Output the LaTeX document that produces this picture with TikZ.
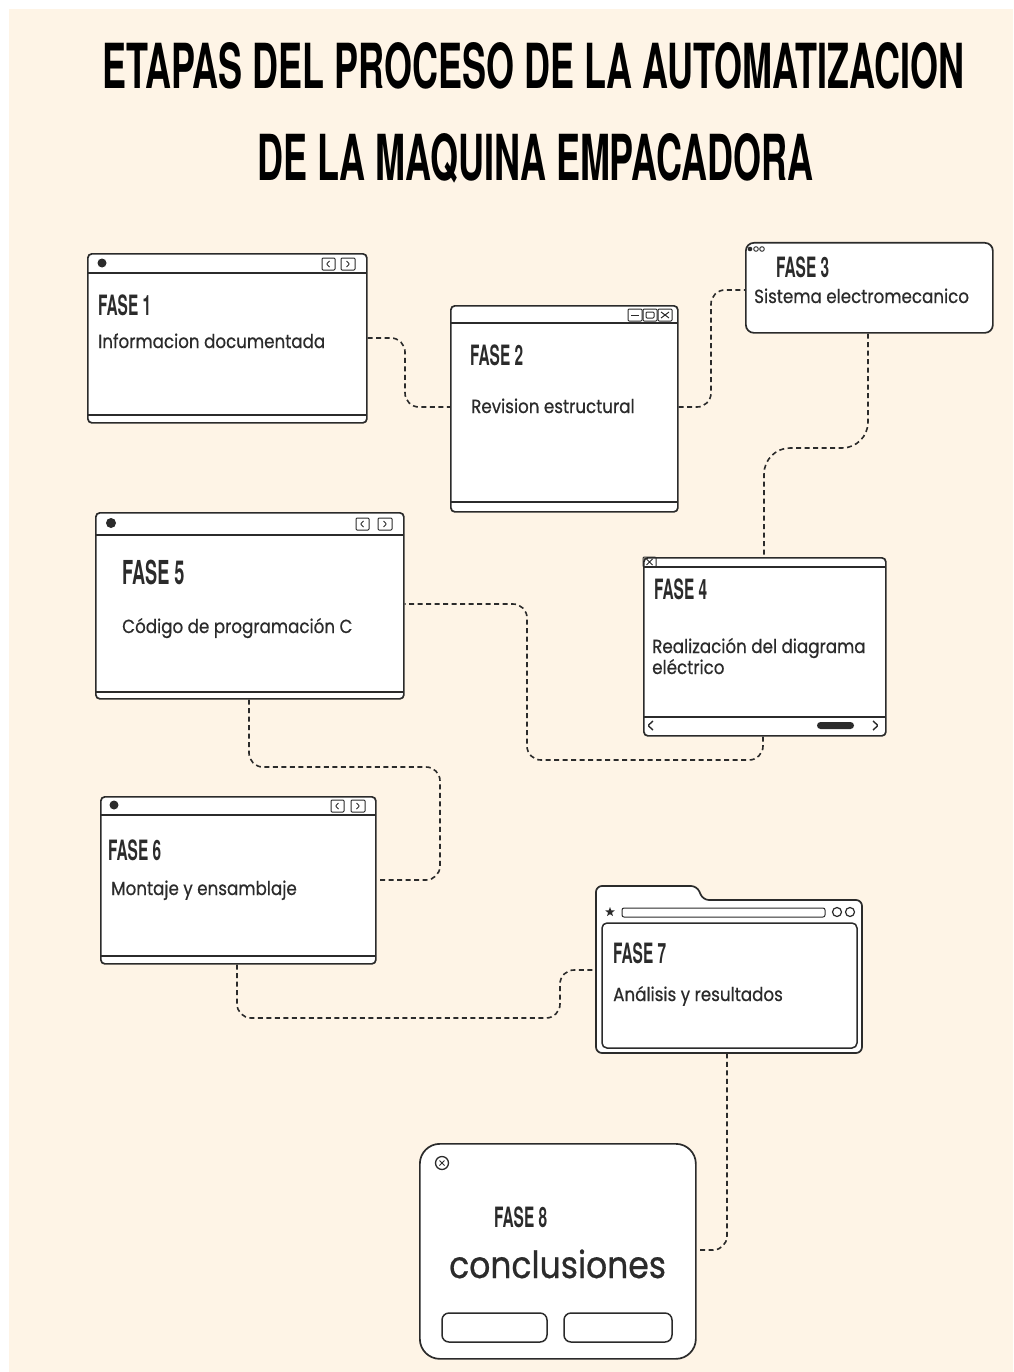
\documentclass[tikz,border=0pt]{standalone}
\usepackage{fontspec}
\usepackage{graphicx}
\usetikzlibrary{shapes.geometric}
\newfontfamily\headfont{TeX Gyre Heros}
\newfontfamily\condfont[FakeStretch=0.55]{TeX Gyre Heros}
\newfontfamily\bodyfont[FakeStretch=0.88,FakeBold=0.6]{Poppins}
\definecolor{cream}{HTML}{FEF4E6}
\definecolor{ink}{HTML}{2B2B2B}
\definecolor{paper}{HTML}{FFFFFF}
\tikzset{
  win/.style={draw=ink, fill=paper, line width=1.7pt, rounded corners=4pt, inner sep=0pt, anchor=north west},
  rule/.style={draw=ink, line width=1.4pt},
  link/.style={draw=ink, line width=1.6pt, dash pattern=on 5pt off 3.5pt, rounded corners=14pt},
  phase/.style={anchor=base west, inner sep=0pt, text=ink, font=\condfont\bfseries\fontsize{28}{28}\selectfont},
  body/.style={anchor=base west, inner sep=0pt, text=ink, font=\bodyfont\fontsize{19}{23}\selectfont},
  btn/.style={draw=ink, line width=1pt, rounded corners=1pt},
}
% pair of back/forward buttons, top-left corner given
\newcommand\navpair[3]{%
  \draw[btn] (#1,#3) rectangle ({#1+13},{#3+12});
  \draw[btn] ({#1+7.5},{#3+3}) -- ({#1+4.5},{#3+6}) -- ({#1+7.5},{#3+9});
  \draw[btn] (#2,#3) rectangle ({#2+14},{#3+12});
  \draw[btn] ({#2+5.5},{#3+3}) -- ({#2+8.5},{#3+6}) -- ({#2+5.5},{#3+9});
}
\begin{document}
\begin{tikzpicture}[x=1pt,y=-1pt]
\useasboundingbox (0,0) rectangle (1013,1372);
\fill[white] (0,0) rectangle (1013,1372);
\fill[cream] (9,9) rectangle (1013,1372);

% title
\node[anchor=north west, inner sep=0pt] (title1) at (102,42)
  {\resizebox{862pt}{46pt}{\headfont\bfseries ETAPAS DEL PROCESO DE LA AUTOMATIZACION}};
\node[anchor=north west, inner sep=0pt] (title2) at (257,133)
  {\resizebox{556pt}{47pt}{\headfont\bfseries DE LA MAQUINA EMPACADORA}};

% windows
\node[win, minimum width=279pt, minimum height=169pt] (w1) at (87,253) {};
\node[win, minimum width=227pt, minimum height=206pt] (w2) at (450,305) {};
\node[win, minimum width=247pt, minimum height=90pt, rounded corners=8pt] (w3) at (745,242) {};
\node[win, minimum width=242pt, minimum height=178pt] (w4) at (643,557) {};
\node[win, minimum width=308pt, minimum height=186pt] (w5) at (95,512) {};
\node[win, minimum width=275pt, minimum height=167pt] (w6) at (100,796) {};
\node[win, minimum width=276pt, minimum height=215pt, rounded corners=20pt] (w8) at (419,1143) {};

% folder-style browser window
\draw[draw=ink, fill=paper, line width=1.7pt, rounded corners=6pt]
  (596,1053) -- (596,886) -- (697,886) -- (703,900) -- (862,900) -- (862,1053) -- cycle;
\node[inner sep=0pt, minimum width=266pt, minimum height=153pt, anchor=north west] (w7) at (596,900) {};
\draw[draw=ink, line width=1.5pt, rounded corners=5pt] (602,923) rectangle (857,1048);
\node[star, star points=5, star point ratio=2.4, fill=ink, inner sep=0pt, minimum size=10pt] (st) at (610,912) {};
\draw[btn, rounded corners=2pt] (622,908) rectangle (825,917);
\draw[btn, line width=1.2pt] (837,912) circle (4.5);
\draw[btn, line width=1.2pt] (850,912) circle (4.5);

% window 1 details
\draw[rule] (87,273) -- (366,273);
\draw[rule] (87,415) -- (366,415);
\fill[ink] (102,263) circle (4.5);
\navpair{322}{341}{258}

% window 2 details
\draw[rule] (450,323) -- (677,323);
\draw[rule] (450,502) -- (677,502);
\draw[btn] (628,309) rectangle (642,321);
\draw[btn] (631,315) -- (639,315);
\draw[btn] (643,309) rectangle (657,321);
\draw[btn] (646,312) rectangle (654,318);
\draw[btn] (658,309) rectangle (672,321);
\draw[btn] (661,312) -- (669,318) (661,318) -- (669,312);

% window 3 details
\fill[ink] (750,249) circle (2.3);
\draw[ink, line width=0.9pt] (756,249) circle (2.3);
\draw[ink, line width=0.9pt] (762,249) circle (2.3);

% window 4 details
\draw[rule] (643,567) -- (885,567);
\draw[rule] (643,717) -- (885,717);
\draw[btn] (643,557) rectangle (656,567);
\draw[btn] (646.5,559) -- (652.5,565) (646.5,565) -- (652.5,559);
\draw[btn, line width=1.4pt] (653,721) -- (648,725.5) -- (653,730);
\fill[ink, rounded corners=3.5pt] (817,722) rectangle (854,729);
\draw[btn, line width=1.4pt] (873,721) -- (878,725.5) -- (873,730);

% window 5 details
\draw[rule] (95,535) -- (403,535);
\draw[rule] (95,692) -- (403,692);
\fill[ink] (111,523) circle (5);
\navpair{356}{378}{518}

% window 6 details
\draw[rule] (100,815) -- (375,815);
\draw[rule] (100,956) -- (375,956);
\fill[ink] (114,805) circle (4.5);
\navpair{331}{351}{800}

% window 8 details
\draw[btn, line width=1.3pt] (442,1163) circle (6.5);
\draw[btn] (439.5,1160.5) -- (444.5,1165.5) (439.5,1165.5) -- (444.5,1160.5);
\draw[draw=ink, line width=1.5pt, rounded corners=7pt] (442,1313) rectangle (547,1342);
\draw[draw=ink, line width=1.5pt, rounded corners=7pt] (564,1313) rectangle (672,1342);

% labels
\node[phase] (f1) at (98,315) {FASE 1};
\node[body] (t1) at (98,348) {Informacion documentada};
\node[phase] (f2) at (470,365) {FASE 2};
\node[body] (t2) at (471,413) {Revision estructural};
\node[phase] (f3) at (776,277) {FASE 3};
\node[body] (t3) at (754,303) {Sistema electromecanico};
\node[phase] (f4) at (654,599) {FASE 4};
\node[body] (t4a) at (652,653) {Realización del diagrama};
\node[body] (t4b) at (652,674) {eléctrico};
\node[phase, font=\condfont\bfseries\fontsize{33}{33}\selectfont] (f5) at (122,584) {FASE 5};
\node[body] (t5) at (122,633) {Código de programación C};
\node[phase] (f6) at (108,860) {FASE 6};
\node[body] (t6) at (111,895) {Montaje y ensamblaje};
\node[phase] (f7) at (613,963) {FASE 7};
\node[body] (t7) at (613,1001) {Análisis y resultados};
\node[phase] (f8) at (494,1227) {FASE 8};
\node[body, font=\bodyfont\fontsize{37.5}{42}\selectfont] (t8) at (449,1278) {conclusiones};

% dashed connectors
\draw[link] (w1.east |- 0,338) -- (405,338) -- (405,407) -- (w2.west |- 0,407);
\draw[link] (w2.east |- 0,407) -- (711,407) -- (711,290) -- (w3.west |- 0,290);
\draw[link, rounded corners=26pt] (w3.south -| 868,0) -- (868,448) -- (764,448) -- (w4.north -| 764,0);
\draw[link] (w4.south -| 763,0) -- (763,760) -- (527,760) -- (527,604) -- (w5.east |- 0,604);
\draw[link] (w5.south -| 249,0) -- (249,767) -- (440,767) -- (440,880) -- (w6.east |- 0,880);
\draw[link] (w6.south -| 237,0) -- (237,1018) -- (560,1018) -- (560,970) -- (w7.west |- 0,970);
\draw[link] (w7.south -| 727,0) -- (727,1250) -- (w8.east |- 0,1250);
\end{tikzpicture}
\end{document}
